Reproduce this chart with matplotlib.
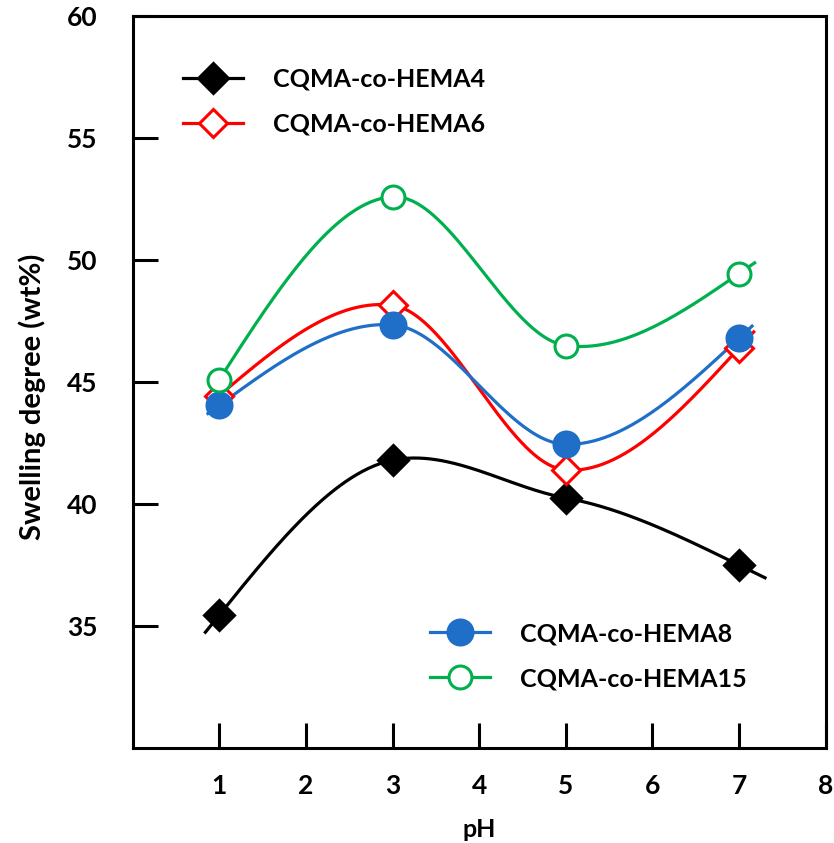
import numpy as np
import matplotlib
matplotlib.use('Agg')
import matplotlib.pyplot as plt

# pH values and swelling degree (wt%) for each copolymer
ph = [1, 3, 5, 7]
hema4 = [35.45, 41.8, 40.25, 37.5]
hema6 = [44.45, 48.15, 41.4, 46.4]
hema8 = [44.05, 47.35, 42.45, 46.8]
hema15 = [45.1, 52.6, 46.5, 49.45]

labels = ['CQMA-co-HEMA4', 'CQMA-co-HEMA6', 'CQMA-co-HEMA8', 'CQMA-co-HEMA15']


def smooth_line(x, y, xs, k=0.6):
    # Hermite curve with damped Catmull-Rom tangents ("smoothed line"),
    # free ends, straight extension past the first/last point
    x = np.asarray(x, float)
    y = np.asarray(y, float)
    n = len(x)
    m = np.zeros(n)
    for i in range(1, n - 1):
        m[i] = k * (y[i + 1] - y[i - 1]) / (x[i + 1] - x[i - 1])
    d0 = (y[1] - y[0]) / (x[1] - x[0])
    dn = (y[-1] - y[-2]) / (x[-1] - x[-2])
    m[0] = (3 * d0 - m[1]) / 2
    m[-1] = (3 * dn - m[-2]) / 2
    out = np.empty_like(xs)
    for j, xv in enumerate(xs):
        if xv <= x[0]:
            out[j] = y[0] + m[0] * (xv - x[0])
            continue
        if xv >= x[-1]:
            out[j] = y[-1] + m[-1] * (xv - x[-1])
            continue
        i = int(np.clip(np.searchsorted(x, xv) - 1, 0, n - 2))
        h = x[i + 1] - x[i]
        t = (xv - x[i]) / h
        out[j] = ((2 * t ** 3 - 3 * t ** 2 + 1) * y[i] + (t ** 3 - 2 * t ** 2 + t) * h * m[i]
                  + (-2 * t ** 3 + 3 * t ** 2) * y[i + 1] + (t ** 3 - t ** 2) * h * m[i + 1])
    return out


plt.rcParams['font.family'] = ['Lato', 'DejaVu Sans']
plt.rcParams['font.weight'] = 'bold'

fig = plt.figure(figsize=(8.34, 8.43), dpi=100)
ax = fig.add_axes([0.159, 0.1127, 0.831, 0.868])

blue = '#1F6FC8'
green = '#00B04F'
series = [
    (hema4, 'k', 'D', 'k', 0.84, 7.3),
    (hema6, 'red', 'D', 'white', 0.9, 7.17),
    (hema8, blue, 'o', blue, 0.87, 7.15),
    (hema15, green, 'o', 'white', 0.95, 7.18),
]
msizes = [15, 14.5, 18, 16.5]

handles = []
for (vals, col, mk, fc, x0, x1), ms, lab in zip(series, msizes, labels):
    xs = np.linspace(x0, x1, 300)
    ax.plot(xs, smooth_line(ph, vals, xs), color=col, lw=2.3, zorder=2)
    ax.plot(ph, vals, linestyle='none', marker=mk, ms=ms, mfc=fc, mec=col,
            mew=2.2, zorder=3)
    h, = ax.plot([], [], color=col, lw=2.3, marker=mk, ms=ms, mfc=fc, mec=col,
                 mew=2.2, label=lab)
    handles.append(h)

ax.set_xlim(0, 8)
ax.set_ylim(30, 60)
ax.set_xticks(range(1, 9))
ax.set_yticks([35, 40, 45, 50, 55, 60])

for s in ax.spines.values():
    s.set_linewidth(2.2)
ax.tick_params(direction='in', length=18, width=2.2, labelsize=19)
ax.tick_params(axis='x', pad=19)
ax.tick_params(axis='y', pad=25)

ax.set_xlabel('pH', fontsize=18, fontweight='bold')
ax.xaxis.set_label_coords(0.5, -0.096)
ax.set_ylabel('Swelling degree (wt%)', fontsize=21, fontweight='bold')
ax.yaxis.set_label_coords(-0.125, 0.48)

leg_kw = dict(frameon=False, fontsize=18, handlelength=2.4, handletextpad=1.2,
              labelspacing=0.88, borderpad=0, borderaxespad=0)
leg1 = ax.legend(handles=handles[:2], loc='upper left', bbox_to_anchor=(0.072, 0.93), **leg_kw)
for t in leg1.get_texts():
    t.set_fontweight('bold')
ax.add_artist(leg1)
leg2 = ax.legend(handles=handles[2:], loc='upper left', bbox_to_anchor=(0.429, 0.172), **leg_kw)
for t in leg2.get_texts():
    t.set_fontweight('bold')

fig.savefig('out.png', dpi=100)
